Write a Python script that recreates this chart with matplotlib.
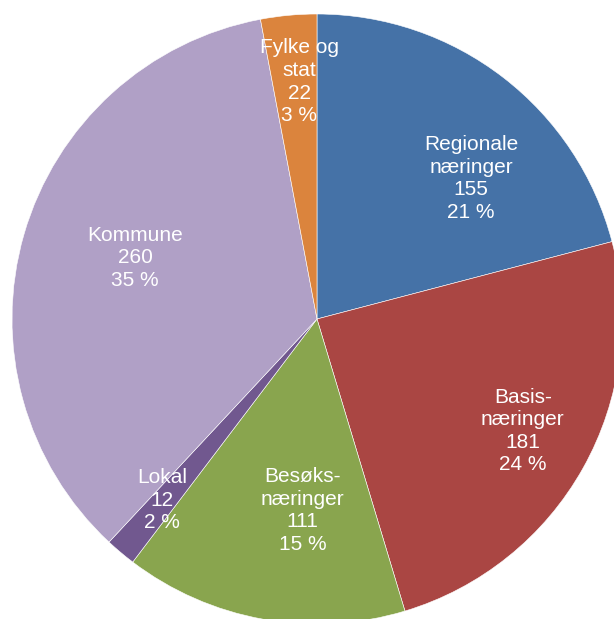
import numpy as np
import matplotlib.pyplot as plt

plt.rcParams['font.family'] = ['Liberation Sans', 'DejaVu Sans']

categories = ['Regionale\nnæringer', 'Basis-\nnæringer', 'Besøks-\nnæringer', 'Lokal', 'Kommune', 'Fylke og\nstat']
values = [155, 181, 111, 12, 260, 22]
percent_labels = ['21 %', '24 %', '15 %', '2 %', '35 %', '3 %']
colors = ['#4572A7', '#AA4643', '#89A54E', '#71588F', '#B0A0C6', '#DB843D']

# label placement (fraction of radius, angle tweak in degrees)
label_r = [0.684, 0.768, 0.629, 0.782, 0.629, 0.780]
label_dang = [-10.0, 0.7, 5.9, -0.5, -2.4, -1.1]

W, H = 614, 619
cx, cy, R = 317, 319, 305

fig = plt.figure(figsize=(W / 100, H / 100), dpi=100)
ax = fig.add_axes([0, 0, 1, 1])

wedges, _ = ax.pie(values, colors=colors, startangle=90, counterclock=False,
                   radius=1.0, wedgeprops=dict(edgecolor='white', linewidth=0.4))

for w, cat, v, p, r, da in zip(wedges, categories, values, percent_labels, label_r, label_dang):
    ang = np.deg2rad((w.theta1 + w.theta2) / 2 + da)
    ax.text(r * np.cos(ang), r * np.sin(ang), f'{cat}\n{v}\n{p}',
            ha='center', va='center', color='white', fontsize=15, linespacing=1.24)

ax.set_aspect('auto')
ax.set_xlim(-cx / R, (W - cx) / R)
ax.set_ylim(-(H - cy) / R, cy / R)
ax.axis('off')

fig.savefig('out.png', dpi=100)
